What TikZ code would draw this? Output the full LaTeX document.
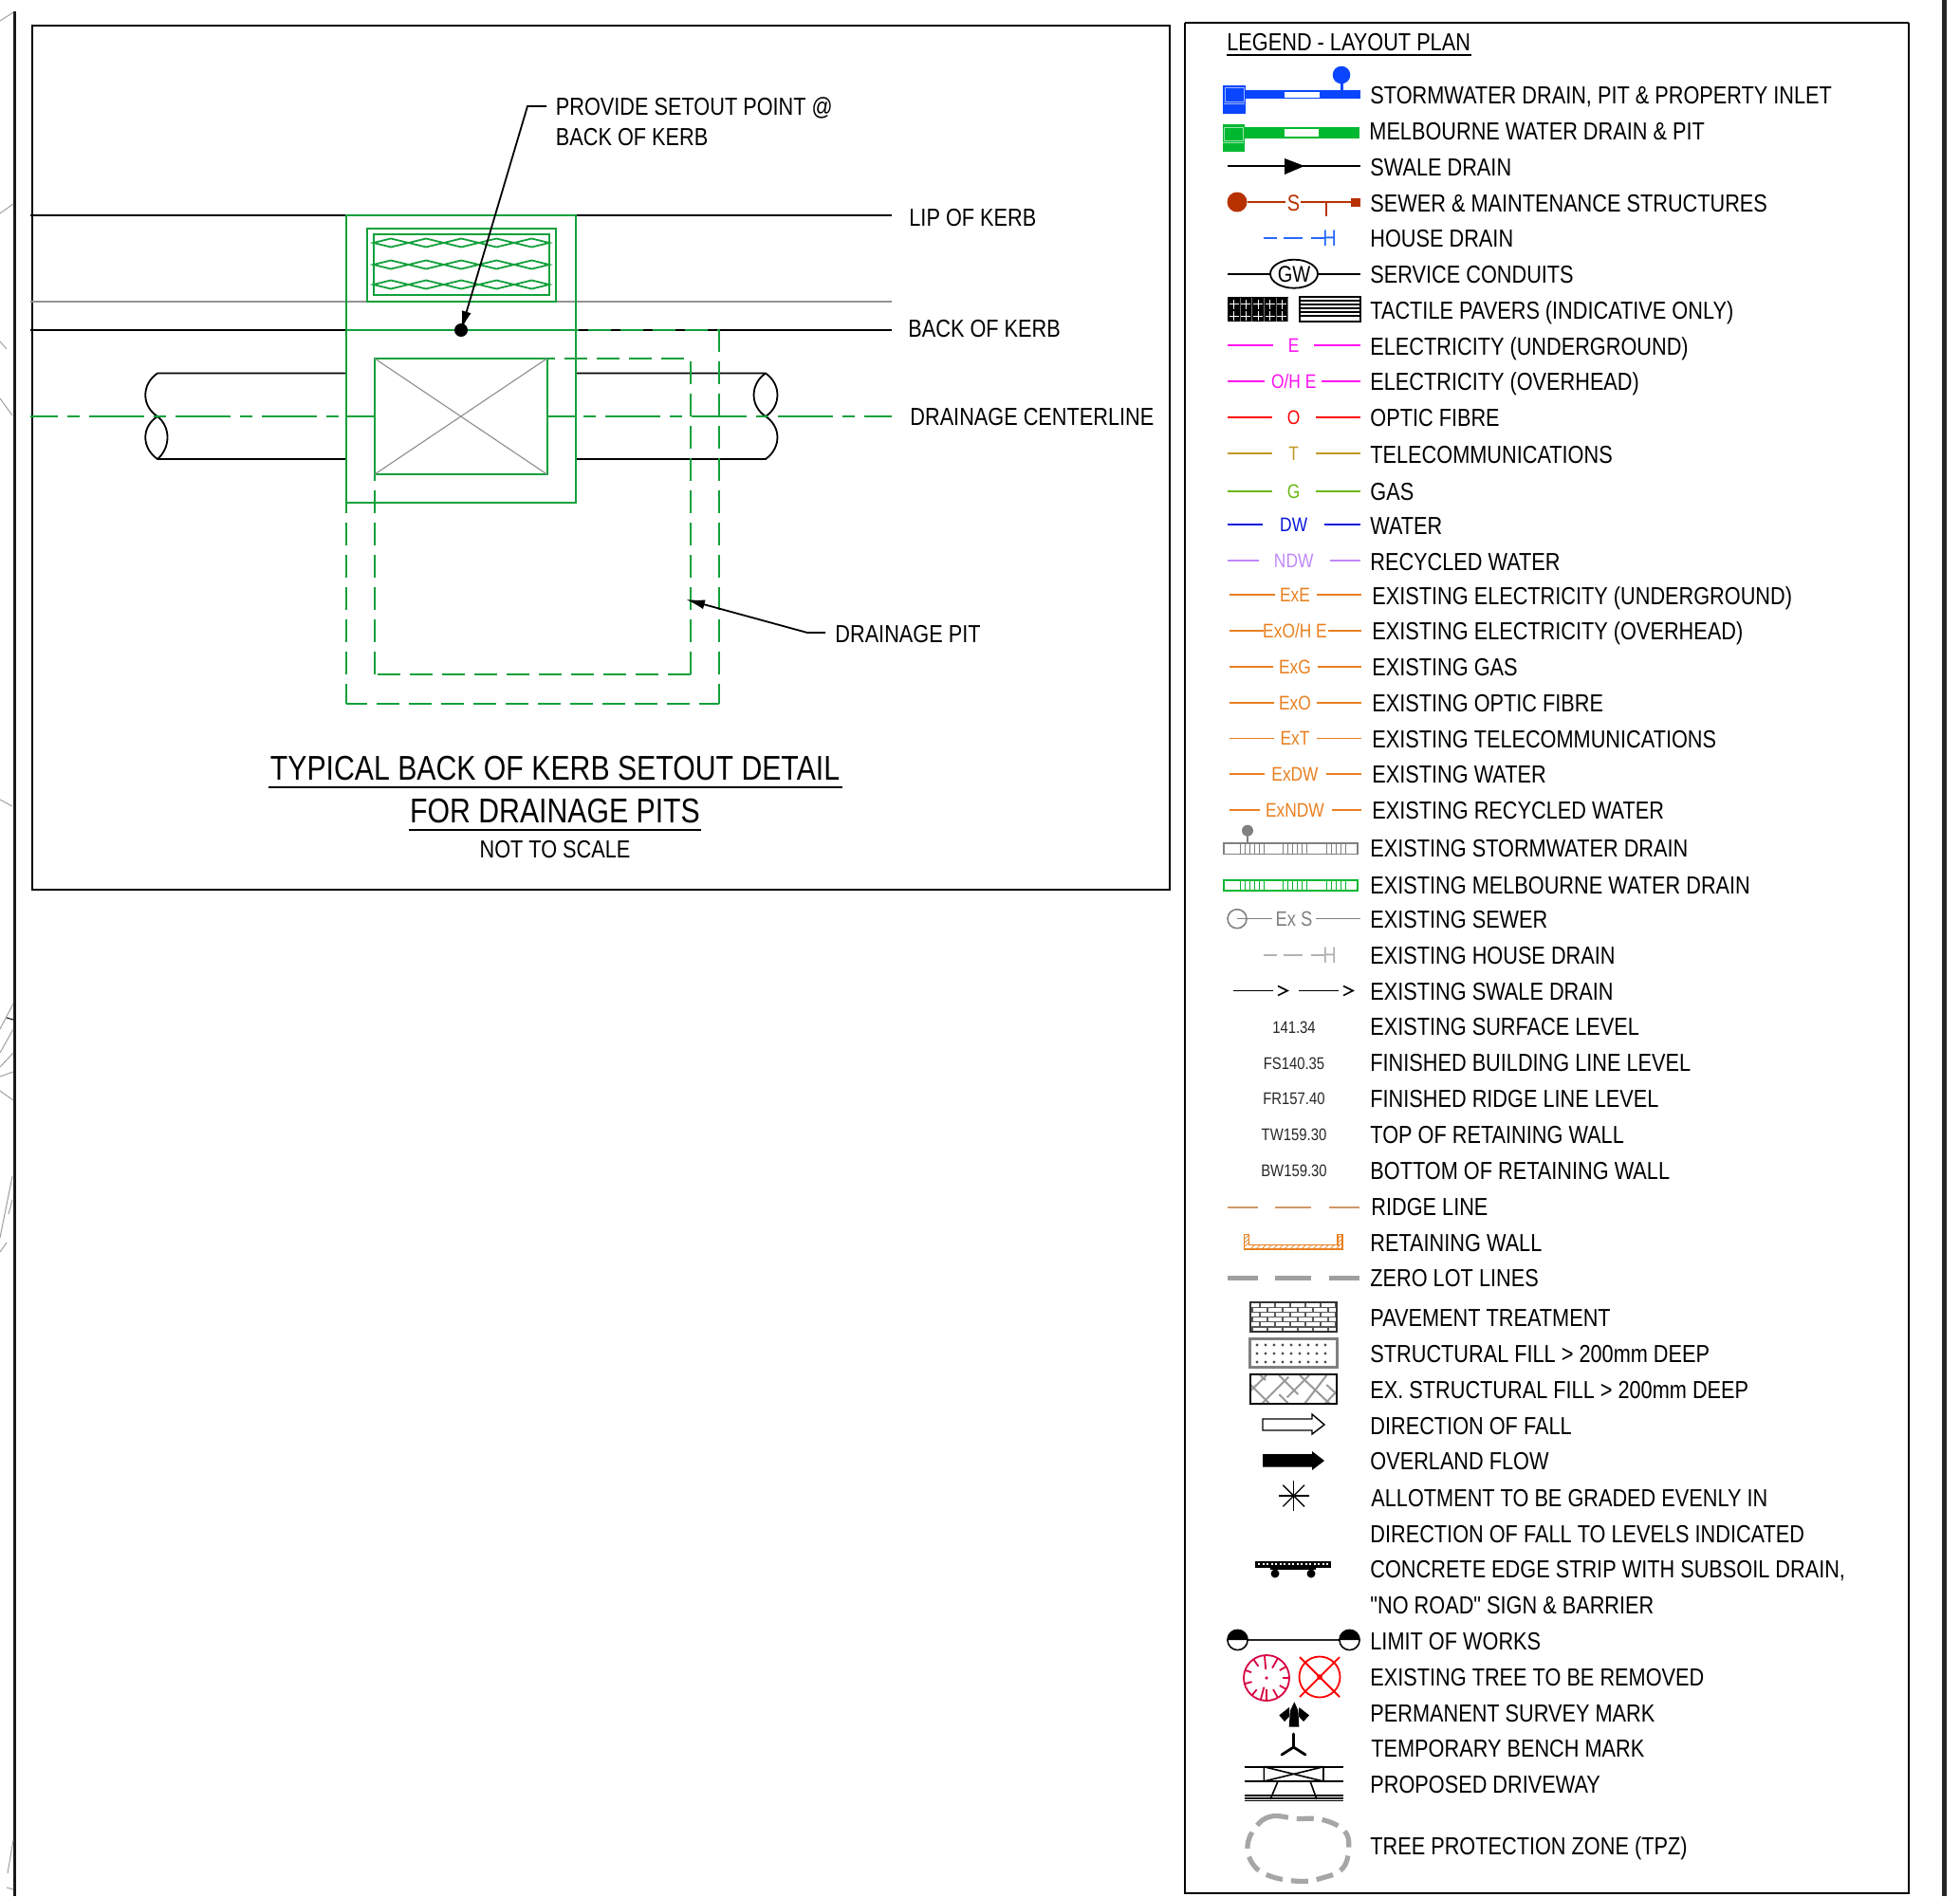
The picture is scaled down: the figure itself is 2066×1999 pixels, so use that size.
\documentclass[tikz,border=0pt]{standalone}
\usepackage{fontspec}
\setmainfont[FakeStretch=0.835,Ligatures=TeXOff]{Liberation Sans}
\usetikzlibrary{arrows.meta,shapes.geometric}
\definecolor{dgreen}{HTML}{12A03C}
\definecolor{lgreen}{HTML}{00B830}
\definecolor{sblue}{HTML}{0A46FF}
\definecolor{srust}{HTML}{B83200}
\definecolor{hblue}{HTML}{2868FF}
\definecolor{magline}{HTML}{FF10F0}
\definecolor{tele}{HTML}{C09A28}
\definecolor{gasg}{HTML}{68B810}
\definecolor{wblue}{HTML}{0818D8}
\definecolor{ndw}{HTML}{C088F8}
\definecolor{exor}{HTML}{E88020}
\definecolor{ridge}{HTML}{D09868}
\definecolor{tgray}{HTML}{808080}
\definecolor{treer}{HTML}{D80040}
\tikzset{
 lbl/.style={anchor=west,inner sep=0pt,text height=9.4pt,text depth=0pt,font=\fontsize{13pt}{15pt}\selectfont},
 sym/.style={anchor=center,inner sep=0pt,text height=7.4pt,text depth=0pt,font=\fontsize{10.4pt}{12pt}\selectfont},
 lvl/.style={anchor=center,inner sep=0pt,text height=6.6pt,text depth=0pt,font=\fontsize{8.9pt}{11pt}\selectfont,text=black!85},
 ttl/.style={anchor=center,inner sep=0pt,text height=13pt,text depth=0pt,font=\fontsize{18.1pt}{20pt}\selectfont},
 ln/.style={line width=0.9pt},
 grn/.style={dgreen,line width=1pt},
 grnd/.style={dgreen,line width=0.9pt,dash pattern=on 12pt off 5pt},
 cl/.style={dgreen,line width=0.9pt,dash pattern=on 29pt off 5pt on 6.5pt off 5pt},
 stub/.style={gray!75,line width=0.5pt},
 zm/.style={x=0.16667pt,y=-0.16667pt},
}
\begin{document}
\begin{tikzpicture}[x=0.5pt,y=-0.5pt]
\useasboundingbox (0,0) rectangle (2066,1999);
% --- sheet edges
\draw[black!90,line width=1.5pt] (15,12) -- (15,1999);
\draw[black!85,line width=2.1pt] (2049.5,0) -- (2049.5,1999);
\foreach \a/\b/\c/\d in {0/22/14/13,0/225/14/215,0/360/7/368,0/420/13/438,0/843/13/850,0/1085/14/1058,0/1110/14/1085,0/1125/14/1110,0/1150/14/1160,0/1135/14/1130,0/1305/13/1240,0/1320/7/1310,9/1280/13/1265,8/1975/14/1940,7/1990/14/1992}
  \draw[stub] (\a,\b) -- (\c,\d);
\draw[black,line width=0.5pt] (7,1073) -- (14,1075);
% --- detail frame
\draw[black,line width=0.9pt] (34,27) rectangle (1233,938);
% kerb lines
\draw[gray!85,line width=0.7pt] (32,318) -- (940,318);
\draw[black,line width=1pt] (32,227) -- (365,227) (606.5,227) -- (940,227);
\draw[black,line width=1.3pt] (32,348) -- (940,348);
% pipes
\draw[ln] (365,393.5) -- (166,393.5) .. controls (149,405) and (149,428) .. (166,439)
  .. controls (149,450) and (149,472) .. (166,484) -- (365,484);
\draw[ln] (166,439) .. controls (180,450) and (180,472) .. (166,484);
\draw[ln] (606.5,393.5) -- (807,393.5) .. controls (823.6,405) and (823.6,428) .. (807,439)
  .. controls (823.6,450) and (823.6,472) .. (807,484) -- (606.5,484);
\draw[ln] (807,393.5) .. controls (790.4,405) and (790.4,428) .. (807,439);
% centreline
\draw[cl,dash phase=14.5pt] (32,439) -- (365,439);
\draw[grn] (365,439) -- (395,439) (576.5,439) -- (606.5,439);
\draw[cl,dash phase=29.75pt] (606.5,439) -- (940,439);
% pit
\draw[grn] (365,227) rectangle (606.5,529.5);
\draw[grn] (386.5,240.5) rectangle (585.5,318);
\draw[grn] (393.5,247) rectangle (579,311);
\foreach \y in {256,279,300}
  \foreach \i in {0,...,4}
    \draw[dgreen,line width=0.9pt] ({393.5+37.1*\i},\y) -- ({412+37.1*\i},{\y-4.5}) -- ({430.6+37.1*\i},\y) -- ({412+37.1*\i},{\y+4.5}) -- cycle;
\draw[grn] (365,348) -- (606.5,348);
\draw[grnd,dash phase=1.5pt] (757.6,741.6) -- (757.6,348) -- (606.5,348);
\draw[grnd,dash phase=1.5pt] (757.6,741.6) -- (365,741.6);
\draw[grnd,dash phase=1.5pt] (365,741.6) -- (365,529.5);
\draw[grnd] (727.7,711) -- (727.7,378) -- (576.5,378);
\draw[grnd] (727.7,711) -- (395,711);
\draw[grnd] (395,711) -- (395,500);
\draw[grn] (395,378) rectangle (576.5,500);
\draw[gray!85,line width=0.6pt] (395,378) -- (576.5,500) (576.5,378) -- (395,500);
% leaders
\node[lbl] (setout1) at (585.5,112) {PROVIDE SETOUT POINT @};
\node[lbl] (setout2) at (585.5,144) {BACK OF KERB};
\coordinate (sp) at (486,348);
\fill (sp) circle (7);
\draw[ln,-{Latex[length=10pt,width=5pt]}] (576,112) -- (556,112) -- (sp);
\node[lbl] (lip) at (958,229) {LIP OF KERB};
\node[lbl] (bok) at (957,346) {BACK OF KERB};
\node[lbl] (dcl) at (959,439) {DRAINAGE CENTERLINE};
\node[lbl] (dp) at (880,668) {DRAINAGE PIT};
\draw[ln,-{Latex[length=10pt,width=5pt]}] (870,667) -- (851,667) -- (723,632);
% title
\node[ttl] (t1) at (585,809) {TYPICAL BACK OF KERB SETOUT DETAIL};
\node[ttl] (t2) at (585,854) {FOR DRAINAGE PITS};
\draw[line width=1pt] (283,830) -- (888,830) (431,875) -- (739,875);
\node[lbl,anchor=center] (nts) at (585,895) {NOT TO SCALE};
% --- legend frame
\draw[black,line width=0.9pt] (1249,24) -- (2012,24);
\draw[black,line width=1.4pt] (1249,24) -- (1249,1996) -- (2012,1996) -- (2012,24);
\node[lbl] (lt) at (1293,44) {LEGEND - LAYOUT PLAN};
\draw[line width=0.8pt] (1293,58) -- (1551,58);
% legend texts
\foreach \nm/\xx/\yy/\tx in {a1/1444/100/{STORMWATER DRAIN, PIT \& PROPERTY INLET},a2/1443/138.5/{MELBOURNE WATER DRAIN \& PIT},a3/1444/176.5/{SWALE DRAIN},a4/1444/214/{SEWER \& MAINTENANCE STRUCTURES},a5/1444/251/{HOUSE DRAIN},a6/1444/289/{SERVICE CONDUITS},a7/1444/327/{TACTILE PAVERS (INDICATIVE ONLY)},a8/1444/365/{ELECTRICITY (UNDERGROUND)},a9/1444/402.5/{ELECTRICITY (OVERHEAD)},a10/1444/440/{OPTIC FIBRE},a11/1444/478.6/{TELECOMMUNICATIONS},a12/1444/518/{GAS},a13/1444/554/{WATER},a14/1444/592/{RECYCLED WATER},a15/1446/628.5/{EXISTING ELECTRICITY (UNDERGROUND)},a16/1446/665.5/{EXISTING ELECTRICITY (OVERHEAD)},a17/1446/703.5/{EXISTING GAS},a18/1446/741/{EXISTING OPTIC FIBRE},a19/1446/779/{EXISTING TELECOMMUNICATIONS},a20/1446/816/{EXISTING WATER},a21/1446/854/{EXISTING RECYCLED WATER},a22/1444/894/{EXISTING STORMWATER DRAIN},a23/1444/933/{EXISTING MELBOURNE WATER DRAIN},a24/1444/969/{EXISTING SEWER},a25/1444/1007/{EXISTING HOUSE DRAIN},a26/1444/1045/{EXISTING SWALE DRAIN},a27/1444/1082/{EXISTING SURFACE LEVEL},a28/1444/1120/{FINISHED BUILDING LINE LEVEL},a29/1444/1158/{FINISHED RIDGE LINE LEVEL},a30/1444/1196/{TOP OF RETAINING WALL},a31/1444/1234/{BOTTOM OF RETAINING WALL},a32/1445/1272/{RIDGE LINE},a33/1444/1310/{RETAINING WALL},a34/1444/1347/{ZERO LOT LINES},a35/1444/1389/{PAVEMENT TREATMENT},a36/1444/1427/{STRUCTURAL FILL > 200mm DEEP},a37/1444/1465/{EX. STRUCTURAL FILL > 200mm DEEP},a38/1444/1503/{DIRECTION OF FALL},a39/1444/1540/{OVERLAND FLOW},a40/1445/1579/{ALLOTMENT TO BE GRADED EVENLY IN},a41/1444/1617/{DIRECTION OF FALL TO LEVELS INDICATED},a42/1444/1654/{CONCRETE EDGE STRIP WITH SUBSOIL DRAIN,},a43/1444/1692/{"NO ROAD" SIGN \& BARRIER},a44/1444/1730/{LIMIT OF WORKS},a45/1444/1768/{EXISTING TREE TO BE REMOVED},a46/1444/1806/{PERMANENT SURVEY MARK},a47/1445/1843/{TEMPORARY BENCH MARK},a48/1444/1881/{PROPOSED DRIVEWAY},a49/1444/1946/{TREE PROTECTION ZONE (TPZ)}}
  \node[lbl] (\nm) at (\xx,\yy) {\tx};
% labelled service lines: y / colour / text / x1 / x2
\foreach \yy/\cc/\tx/\xa/\xb in {364.3/magline/E/1341.7/1385,402/magline/{O/H E}/1333/1393,440/red/O/1341/1387,477.6/tele/T/1341/1387,518/gasg/G/1341/1387,553/wblue/DW/1331/1396,591/ndw/NDW/1326.7/1401.7}{
  \draw[\cc,line width=0.9pt] (1294,\yy) -- (\xa,\yy) (\xb,\yy) -- (1434,\yy);
  \node[sym,text=\cc] at (1363.7,\yy) {\tx};
}
\foreach \yy/\tx/\xa/\xb in {627/ExE/1343.7/1387.7,665/{ExO/H E}/1331.7/1400,703/ExG/1342/1389,741/ExO/1343/1388,778.5/ExT/1343/1388,816/ExDW/1332.7/1398,854/ExNDW/1328/1404}{
  \draw[exor,line width=0.8pt] (1296,\yy) -- (\xa,\yy) (\xb,\yy) -- (1435,\yy);
  \node[sym,text=exor] at (1365,\yy) {\tx};
}
% stormwater
\fill[sblue] (1289,90) rectangle (1312.7,120);
\fill[sblue] (1312,95) rectangle (1434,104.3);
\fill[white] (1354,97) rectangle (1391,102.6);
\draw[sblue!40!white,line width=0.4pt] (1291,92) rectangle (1311,107) (1290,109) -- (1312,109);
\fill[sblue] (1414,79) circle (9.3);
\draw[sblue,line width=1.5pt] (1414,85) -- (1414,96);
% melbourne
\fill[lgreen] (1288.5,131) rectangle (1311.5,160);
\fill[lgreen] (1311,134) rectangle (1433,146);
\fill[white] (1354,136) rectangle (1390,144);
\draw[lgreen!40!white,line width=0.4pt] (1290,134) rectangle (1310,148) (1289,150) -- (1311,150);
% swale
\draw[line width=0.8pt] (1294,175) -- (1434,175);
\fill (1354,167) -- (1375,175) -- (1354,184) -- cycle;
% sewer
\fill[srust] (1304,213) circle (10.5);
\draw[srust,line width=0.8pt] (1315,213) -- (1355,213) (1371,213) -- (1425,213) (1398,213) -- (1398,228);
\fill[srust] (1424,208.5) rectangle (1434,218);
\node[sym,text=srust,font=\fontsize{12pt}{14pt}\selectfont,text height=8.6pt] (sw) at (1363.5,213.5) {S};
% house
\draw[hblue,line width=0.8pt] (1332,251) -- (1346,251) (1353,251) -- (1373,251) (1382,251) -- (1396,251);
\node[sym,text=hblue,font=\fontsize{12pt}{14pt}\selectfont,text height=8.6pt] (hh) at (1401.5,251) {H};
% GW
\node[draw,ellipse,inner sep=0pt,line width=0.9pt,text height=8.6pt,text depth=0pt,font=\fontsize{12pt}{14pt}\selectfont,minimum height=15pt,minimum width=25pt] (gw) at (1364,288.7) {GW};
\draw[line width=0.8pt] (1294,288.7) -- (gw) (gw) -- (1434,288.7);
% tactile
\fill (1294,313) rectangle (1358,339);
\foreach \xx in {1300.7,1313.3,1326,1338.7,1351.3}
  \foreach \yy in {320.7,333.3}{
    \draw[white,line width=0.5pt] (\xx-5,\yy) -- (\xx+5,\yy) (\xx,\yy-5) -- (\xx,\yy+5);
    \draw[black!55,line width=0.3pt] (\xx+6.3,\yy-7) -- (\xx+6.3,\yy+6);
  }
\draw[line width=0.9pt] (1370,313) rectangle (1434,339);
\foreach \yy in {317,321,325,329,333}
  \draw[line width=0.6pt] (1370,\yy) -- (1434,\yy);
% ex stormwater & MW
\foreach \yt/\cc in {889/tgray,927.7/lgreen}{
  \draw[\cc,line width=0.9pt] (1290,\yt) rectangle (1431,\yt+11.5);
  \foreach \xx in {1307.5,1312.5,1317.5,1322.5,1327.5,1332.3,1352.7,1357.6,1362.5,1367.5,1372.5,1377.3,1398,1403,1408,1413,1418.7}
    \draw[\cc,line width=0.5pt] (\xx,\yt) -- (\xx,\yt+11.5);
}
\fill[tgray] (1315,875.7) circle (6);
\draw[tgray,line width=0.9pt] (1315,880) -- (1315,889);
% ex sewer
\draw[tgray,line width=0.8pt] (1304,968.7) circle (10);
\draw[tgray,line width=0.7pt] (1304,968.7) -- (1341,968.7) (1387,968.7) -- (1434,968.7);
\node[sym,text=tgray,font=\fontsize{11pt}{13pt}\selectfont] (exs) at (1364,968.7) {Ex S};
% ex house
\draw[gray!60,line width=0.8pt] (1332,1006.7) -- (1346,1006.7) (1353,1006.7) -- (1373,1006.7) (1382,1006.7) -- (1396,1006.7);
\node[sym,text=gray!60,font=\fontsize{12pt}{14pt}\selectfont,text height=8.6pt] (exh) at (1401.5,1006.7) {H};
% ex swale
\draw[line width=0.8pt] (1300,1044.5) -- (1342,1044.5) (1369,1044.5) -- (1411,1044.5);
\draw[line width=0.8pt] (1347,1039.5) -- (1357,1044.5) -- (1347,1049.5) (1416,1039.5) -- (1426,1044.5) -- (1416,1049.5);
% levels
\node[lvl] (l1) at (1364,1083) {141.34};
\node[lvl] (l2) at (1364,1121) {FS140.35};
\node[lvl] (l3) at (1364,1158) {FR157.40};
\node[lvl] (l4) at (1364,1196) {TW159.30};
\node[lvl] (l5) at (1364,1234) {BW159.30};
% ridge, zero lot
\draw[ridge,line width=0.8pt] (1294,1272.7) -- (1325.7,1272.7) (1344,1272.7) -- (1382,1272.7) (1400.7,1272.7) -- (1433,1272.7);
\draw[gray!75,line width=2.5pt] (1294,1347) -- (1325.7,1347) (1344,1347) -- (1382,1347) (1400.7,1347) -- (1433,1347);
% retaining wall
\draw[exor,line width=0.7pt] (1311.7,1301.7) -- (1311.7,1317) -- (1415,1317) -- (1415,1301.7) -- (1410,1301.7) -- (1410,1312.7) -- (1316.7,1312.7) -- (1316.7,1301.7) -- cycle;
\foreach \xx in {1318,1324,...,1408}
  \draw[exor,line width=0.4pt] (\xx,1317) -- (\xx+4,1312.7);
\foreach \yy in {1306,1310,1314}{
  \draw[exor,line width=0.4pt] (1311.7,\yy) -- (1316.7,\yy-4);
  \draw[exor,line width=0.4pt] (1410,\yy) -- (1415,\yy-4);
}
% pavement
\foreach \i in {0,...,4}{
  \draw[gray!70!black,line width=0.6pt] (1317.7,1378.2+5.2*\i) -- (1409,1378.2+5.2*\i);
}
\foreach \i in {0,2,4}
  \foreach \xx in {1328,1344,...,1408}
    \draw[gray!70!black,line width=0.6pt] (\xx,1373+5.2*\i) -- (\xx,1378.2+5.2*\i);
\foreach \i in {1,3,5}
  \foreach \xx in {1320,1336,...,1408}
    \draw[gray!70!black,line width=0.6pt] (\xx,1373+5.2*\i) -- (\xx,1378.2+5.2*\i);
\draw[black!80,line width=0.9pt] (1317.7,1373) rectangle (1409,1404);
% structural
\draw[tgray,line width=1.5pt] (1317.7,1411) rectangle (1409,1441.7);
\foreach \yy in {1418,1427,1436}
  \foreach \xx in {1325,1334,...,1405}
    \fill[black!70] (\xx,\yy) circle (1.6);
% ex structural
\begin{scope}[shift={(1260,1270)},zm]
 \clip (173,537) rectangle (447,630);
 \draw[gray!80,line width=1pt] (173,590) -- (225,540) (210,630) -- (295,545) (290,610) -- (360,540) (345,630) -- (415,540) (410,630) -- (447,590)
   (175,570) -- (235,630) (265,540) -- (325,600) (330,540) -- (425,630) (265,600) -- (295,630) (415,570) -- (447,600) (205,540) -- (222,555);
\end{scope}
\draw[line width=0.9pt] (1317.7,1449) rectangle (1409,1480);
% arrows
\draw[line width=0.7pt,fill=white] (1331,1496) -- (1383,1496) -- (1383,1491) -- (1396,1502) -- (1383,1512) -- (1383,1508) -- (1331,1508) -- cycle;
\fill (1331,1533) -- (1383,1533) -- (1383,1530) -- (1396,1540) -- (1383,1550) -- (1383,1546.7) -- (1331,1546.7) -- cycle;
% star
\foreach \a in {0,45,...,135}
  \draw[line width=0.7pt] (1363.7,1577) ++(\a:16) -- ++(\a+180:32);
% concrete strip
\fill (1323,1645.7) rectangle (1402.7,1652.7);
\foreach \xx in {1326,1330.5,...,1400}
  \fill[white] (\xx,1647.7) rectangle ++(2.4,2.6);
\draw[line width=1pt] (1339,1654) -- (1387,1654);
\fill (1344,1659) circle (4.5) (1382,1659) circle (4.5);
% limit of works
\draw[gray!30!black,line width=1.2pt] (1315,1729) -- (1412,1729);
\foreach \xx in {1304.5,1422.5}{
  \fill (\xx-11,1729) arc[start angle=180,end angle=360,radius=11] -- cycle;
  \draw[line width=0.8pt] (\xx,1729) circle (10.6);
}
% trees
\draw[treer,line width=0.9pt] (1335,1769) circle (24);
\foreach \a/\l in {90/12,60/10,30/8,0/7,-30/8,-60/12,-95/15,-125/9,-160/7,165/8,130/8,105/14}
  \draw[treer,line width=0.9pt] (1335,1769) ++(\a:24) -- ++(\a+180:\l);
\fill[treer] (1335,1769) circle (1.8);
\draw[red,line width=0.9pt] (1391,1768) circle (21.5);
\draw[red,line width=0.9pt] (1370,1747) -- (1412,1789) (1412,1747) -- (1370,1789);
\fill[red] (1391,1768) circle (2.8);
% PSM
\begin{scope}[shift={(1260,1700)},zm]
 \fill (313,283) -- (325,310) -- (328,362) -- (296,362) -- (300,310) -- cycle;
 \fill (297,300) -- (265,325) -- (282,345) -- (298,328) -- cycle;
 \fill (328,300) -- (360,325) -- (342,345) -- (326,328) -- cycle;
\end{scope}
% TBM
\draw[line width=1.4pt,line cap=round] (1363.5,1828) -- (1363.5,1842) (1363.5,1842) -- (1351,1850) (1363.5,1842) -- (1376,1850);
% driveway
\draw[line width=0.8pt] (1311.5,1862.7) -- (1415.5,1862.7) (1311.5,1878) -- (1415.5,1878) (1311.5,1893) -- (1415.5,1893) (1311.5,1896) -- (1415.5,1896) (1311.5,1898.5) -- (1415.5,1898.5);
\draw[line width=0.8pt] (1332.3,1862.7) rectangle (1395,1878) (1332.3,1862.7) -- (1395,1878) (1332.3,1878) -- (1395,1862.7);
\draw[line width=0.8pt] (1347,1878) -- (1339,1897) (1381,1878) -- (1388,1897);
% TPZ
\begin{scope}[shift={(1260,1700)},zm]
 \draw[gray!70,line width=2.6pt,dash pattern=on 9pt off 4.5pt] plot[smooth cycle,tension=0.7] coordinates {(190,680) (240,645) (320,652) (400,655) (470,690) (485,745) (465,810) (400,840) (330,850) (240,835) (185,800) (165,740)};
\end{scope}
\end{tikzpicture}
\end{document}
